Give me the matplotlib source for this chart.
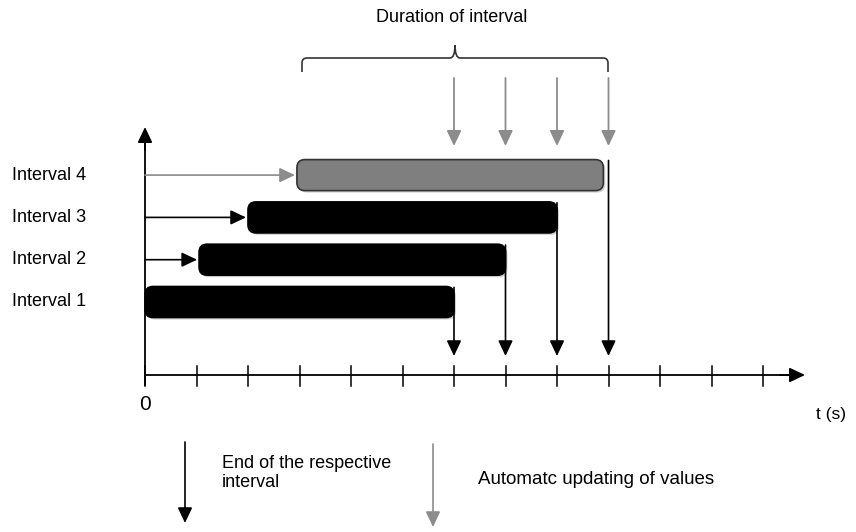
import matplotlib
matplotlib.use("Agg")
import matplotlib.pyplot as plt
from matplotlib.patches import FancyBboxPatch
from matplotlib.path import Path
from matplotlib.patches import PathPatch

plt.rcParams['font.family'] = ['Liberation Sans', 'DejaVu Sans']

# ---- data ----
interval_labels = ["Interval 1", "Interval 2", "Interval 3", "Interval 4"]
rows = [1, 2, 3, 4]
starts = [0.0, 1.05, 2.0, 2.95]
ends = [6.0, 7.0, 8.0, 8.9]
update_times = [6, 7, 8, 9]
tick_values = list(range(0, 13))
bar_colors = ["#000000", "#000000", "#000000", "#7f7f7f"]
lead_colors = [None, "#000000", "#000000", "#8c8c8c"]

W, H = 856, 532
fig = plt.figure(figsize=(W / 100, H / 100), dpi=100)
ax = fig.add_axes([0, 0, 1, 1])
ax.set_axis_off()

# scale: x unit = 51.5 px, origin at px 145 ; y unit = 42.3 px, row 1 at px 302
XU, X0 = 51.5, 145
YU, Y1 = 42.3, 302
ax.set_xlim(-X0 / XU, (W - X0) / XU)
ax.set_ylim(1 + (Y1 - H) / YU, 1 + Y1 / YU)

def X(px):
    return (px - X0) / XU

def Y(py):
    return 1 + (Y1 - py) / YU

bar_h = 31 / YU
head = dict(arrowstyle='-|>,head_length=0.55,head_width=0.26', mutation_scale=17,
            shrinkA=0, shrinkB=0)

# axes
y_axis_base = Y(375)
ax.plot([0, 0], [Y(385), Y(140)], color='black', lw=1.3, zorder=2)
ax.annotate('', xy=(0, Y(127)), xytext=(0, Y(150)),
            arrowprops=dict(color='black', lw=1.3, **head))
ax.plot([0, X(790)], [y_axis_base, y_axis_base], color='black', lw=1.3, zorder=2)
ax.annotate('', xy=(X(805), y_axis_base), xytext=(X(780), y_axis_base),
            arrowprops=dict(color='black', lw=1.3, **head))
for t in tick_values:
    ax.plot([t, t], [Y(366), Y(386)], color='black', lw=1.1, zorder=2)

ax.text(0, Y(404), "0", fontsize=15, ha='center', va='center')
ax.text(X(831), Y(415), "t (s)", fontsize=12.5, ha='center', va='center')

# down arrows at the end of each interval (black)
for r, t in zip(rows, update_times):
    top = r + bar_h / 2 - 0.02
    ax.annotate('', xy=(t, Y(356)), xytext=(t, top),
                arrowprops=dict(color='black', lw=1.2, **head), zorder=1)

# bars
rad_px = 8
for r, s, e, c in zip(rows, starts, ends, bar_colors):
    sh = FancyBboxPatch((s + 2 / XU, r - bar_h / 2 - 2 / YU), e - s, bar_h,
                        boxstyle=f"round,pad=0,rounding_size={rad_px / XU}",
                        mutation_aspect=XU / YU, fc='#000000', ec='none',
                        alpha=0.18, zorder=2)
    ax.add_patch(sh)
    p = FancyBboxPatch((s, r - bar_h / 2), e - s, bar_h,
                       boxstyle=f"round,pad=0,rounding_size={rad_px / XU}",
                       mutation_aspect=XU / YU, fc=c,
                       ec='#333333' if c != '#000000' else 'black', lw=1.2, zorder=3)
    ax.add_patch(p)

# lead-in arrows from the y axis
for r, s, lc in zip(rows, starts, lead_colors):
    if lc is None:
        continue
    ax.annotate('', xy=(s - 2 / XU, r), xytext=(0, r),
                arrowprops=dict(color=lc, lw=1.2, **head), zorder=2)

# interval labels
for r, lab in zip(rows, interval_labels):
    ax.text(X(12), r, lab, fontsize=13, ha='left', va='center')

# gray update arrows at top
for t in update_times:
    ax.annotate('', xy=(t, Y(146)), xytext=(t, Y(78)),
                arrowprops=dict(color='#8c8c8c', lw=1.3, **head))

# brace
bx0, bx1, bxm = X(302), X(608), X(455)
by, bye, byt = Y(58), Y(72), Y(45)
dx, dy = 5 / XU, 5 / YU
verts = [
    (bx0, bye), (bx0, by - dy), (bx0, by), (bx0 + dx, by),
    (bxm - dx, by), (bxm, by), (bxm, byt),
    (bxm, by), (bxm + dx, by),
    (bx1 - dx, by), (bx1, by), (bx1, by - dy), (bx1, bye),
]
codes = [Path.MOVETO, Path.LINETO, Path.CURVE3, Path.CURVE3,
         Path.LINETO, Path.CURVE3, Path.CURVE3,
         Path.CURVE3, Path.CURVE3,
         Path.LINETO, Path.CURVE3, Path.CURVE3, Path.LINETO]
ax.add_patch(PathPatch(Path(verts, codes), fc='none', ec='#333333', lw=1.2))
ax.text(X(452), Y(18), "Duration of interval", fontsize=13, ha='center', va='center')

# legend
ax.annotate('', xy=(X(185), Y(523)), xytext=(X(185), Y(442)),
            arrowprops=dict(color='black', lw=1.2, **head))
ax.text(X(222), Y(473), "End of the respective\ninterval", fontsize=13,
        ha='left', va='center', linespacing=1.15)
ax.annotate('', xy=(X(433), Y(527)), xytext=(X(433), Y(444)),
            arrowprops=dict(color='#8c8c8c', lw=1.2, **head))
ax.text(X(478), Y(480), "Automatc updating of values", fontsize=13.5,
        ha='left', va='center')

fig.savefig("out.png", dpi=100)
